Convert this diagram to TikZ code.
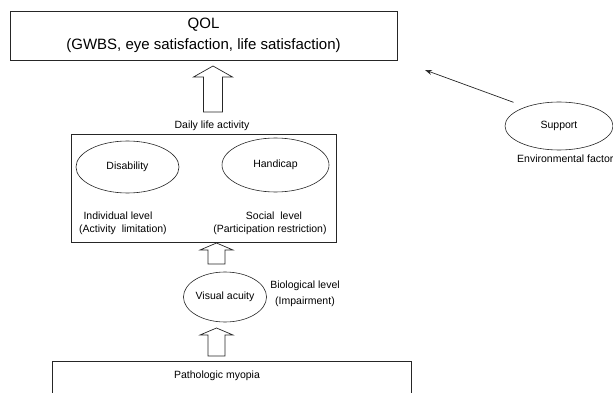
\documentclass[tikz,border=0pt]{standalone}
\usepackage{fontspec}
\setmainfont{Liberation Sans}
\usetikzlibrary{arrows.meta,shapes.geometric,positioning}
\tikzset{
  boxnode/.style={draw=black!85, line width=0.8pt, inner sep=0pt},
  oval/.style={draw=black!85, ellipse, line width=0.6pt, inner sep=0pt, font=\fontsize{10.5}{12}\selectfont},
  lbl/.style={font=\fontsize{10.5}{12}\selectfont, inner sep=0pt},
  hollow/.style={draw=black!85, line width=0.7pt, fill=white},
}
% #1 x centre, #2 bottom, #3 tip, #4 half shaft, #5 half head, #6 head length
\newcommand{\fatarrow}[6]{%
  \draw[hollow] (#1-#4,#2) -- (#1-#4,#3+#6) -- (#1-#5,#3+#6) -- (#1,#3)
    -- (#1+#5,#3+#6) -- (#1+#4,#3+#6) -- (#1+#4,#2) -- cycle;}

\begin{document}
\begin{tikzpicture}[x=1pt,y=-1pt]
    \useasboundingbox (0,0) rectangle (613,393);
    \clip (0,0) rectangle (613,393);

    % top box
    \node[boxnode, minimum width=387, minimum height=49, align=center,
      font=\fontsize{15}{21}\selectfont] (qol) at (203.5,35.5)
      {QOL\\(GWBS, eye satisfaction, life satisfaction)};
    \fatarrow{213}{112}{66}{9.5}{19.5}{11}

    % daily life activity
    \node[lbl] (daily) at (212,126) {Daily life activity};
    \node[boxnode, minimum width=265, minimum height=108] (act) at (203.5,188) {};
    \node[oval, minimum width=103, minimum height=52] (dis) at (127.5,167) {Disability};
    \node[oval, minimum width=107, minimum height=54] (hand) at (275.5,165) {Handicap};
    \node[lbl] (indiv) at (118,216) {Individual level};
    \node[lbl] (actlim) at (123,230) {(Activity\ \ limitation)};
    \node[lbl] (social) at (274,216) {Social\ \ level};
    \node[lbl] (partres) at (270,230) {(Participation restriction)};
    \fatarrow{216.5}{264}{243}{8.5}{16.5}{7}

    % impairment
    \node[oval, minimum width=82, minimum height=50] (va) at (225,297) {Visual acuity};
    \node[lbl] (bio) at (305,286) {Biological level};
    \node[lbl] (imp) at (305,302) {(Impairment)};
    \fatarrow{216.5}{356}{328}{8.5}{16.5}{7}

    % pathology
    \node[boxnode, minimum width=359, minimum height=60, anchor=north] (myo) at (231.5,361) {};
    \node[lbl] (myotxt) at (217,376) {Pathologic myopia};

    % environment
    \node[oval, minimum width=108, minimum height=48] (sup) at (559,126) {Support};
    \node[lbl, anchor=west] (env) at (517,159) {Environmental factor};
    \coordinate (suptip) at (425,70);
    \draw[black!85, line width=0.7pt, -{Stealth[length=7pt,width=5pt]}, shorten <=13pt] (sup.150) -- (suptip);
\end{tikzpicture}
\end{document}
